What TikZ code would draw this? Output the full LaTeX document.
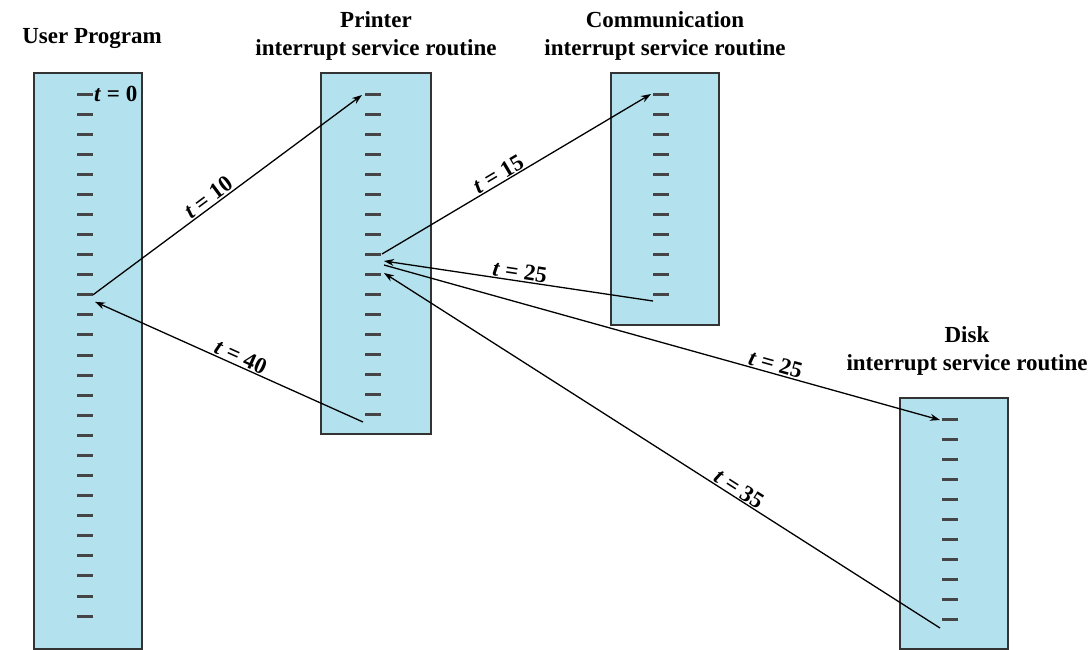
\documentclass[tikz,border=0pt]{standalone}
\usepackage{fontspec}
\setmainfont{Liberation Serif}
\usetikzlibrary{arrows.meta,calc}
\definecolor{panel}{HTML}{B3E1ED}
\definecolor{tickgray}{HTML}{454545}
\begin{document}
\begin{tikzpicture}[x=1pt,y=-1pt,
  panelbox/.style={draw=black!80, line width=1.5pt, fill=panel, inner sep=0pt, anchor=north west},
  tickline/.style={draw=tickgray, line width=3pt},
  flow/.style={draw=black, line width=1.3pt, -{Stealth[length=10pt,width=7pt]}},
  title/.style={font=\fontsize{23}{28}\selectfont\bfseries, align=center, inner sep=0pt},
  tlabel/.style={font=\fontsize{23}{27}\selectfont\bfseries, inner sep=1pt}]
\useasboundingbox (0,0) rectangle (1092,649);

% routine boxes
\node[panelbox, minimum width=108pt, minimum height=576pt] (user) at (33,72) {};
\node[panelbox, minimum width=110pt, minimum height=361pt] (printer) at (320,72) {};
\node[panelbox, minimum width=108pt, minimum height=252pt] (comm) at (610,72) {};
\node[panelbox, minimum width=108pt, minimum height=251pt] (disk) at (899,397) {};

% titles (base = baseline of the last line)
\node[title, anchor=base] (usertitle) at (92,43) {User Program};
\node[title, anchor=base] (printertitle) at (376,55) {Printer\\interrupt service routine};
\node[title, anchor=base] (commtitle) at (665,55) {Communication\\interrupt service routine};
\node[title, anchor=base] (disktitle) at (967,370) {Disk\\interrupt service routine};

% instruction ticks
\foreach \i in {1,...,27}
  \draw[tickline] (77,{94+(\i-1)*20.08}) coordinate (u\i) -- ++(16,0) coordinate (ur\i);
\foreach \i in {1,...,17}
  \draw[tickline] (365,{94+(\i-1)*20}) coordinate (p\i) -- ++(16,0) coordinate (pr\i);
\foreach \i in {1,...,11}
  \draw[tickline] (653,{94+(\i-1)*20}) coordinate (c\i) -- ++(16,0) coordinate (cr\i);
\foreach \i in {1,...,11}
  \draw[tickline] (942,{419+(\i-1)*20}) coordinate (d\i) -- ++(16,0) coordinate (dr\i);

\node[tlabel, anchor=west, inner sep=0pt] (tzero) at ($(ur1)+(1,0)$) {\textit{t} = 0};

% control transfers
\draw[flow] (ur11) -- ($(p1)+(-3,1)$) node[tlabel, pos=0.45, above, sloped] {\textit{t} = 10};
\draw[flow] ($(pr9)+(1,0)$) -- ($(c1)+(-2,0)$) node[tlabel, pos=0.45, above, sloped] {\textit{t} = 15};
\draw[flow] ($(c11)+(0,7)$) -- ($(pr9)+(3,7)$) node[tlabel, pos=0.5, above, sloped] {\textit{t} = 25};
\draw[flow] ($(pr9)+(3,11)$) -- ($(d1)+(-2,1)$) node[tlabel, pos=0.7, above, sloped] {\textit{t} = 25};
\draw[flow] ($(d11)+(-2,9)$) -- ($(pr9)+(3,19)$) node[tlabel, pos=0.37, above, sloped] {\textit{t} = 35};
\draw[flow] ($(p17)+(-2,8)$) -- ($(ur11)+(2,7)$) node[tlabel, pos=0.47, above, sloped] {\textit{t} = 40};
\end{tikzpicture}
\end{document}
